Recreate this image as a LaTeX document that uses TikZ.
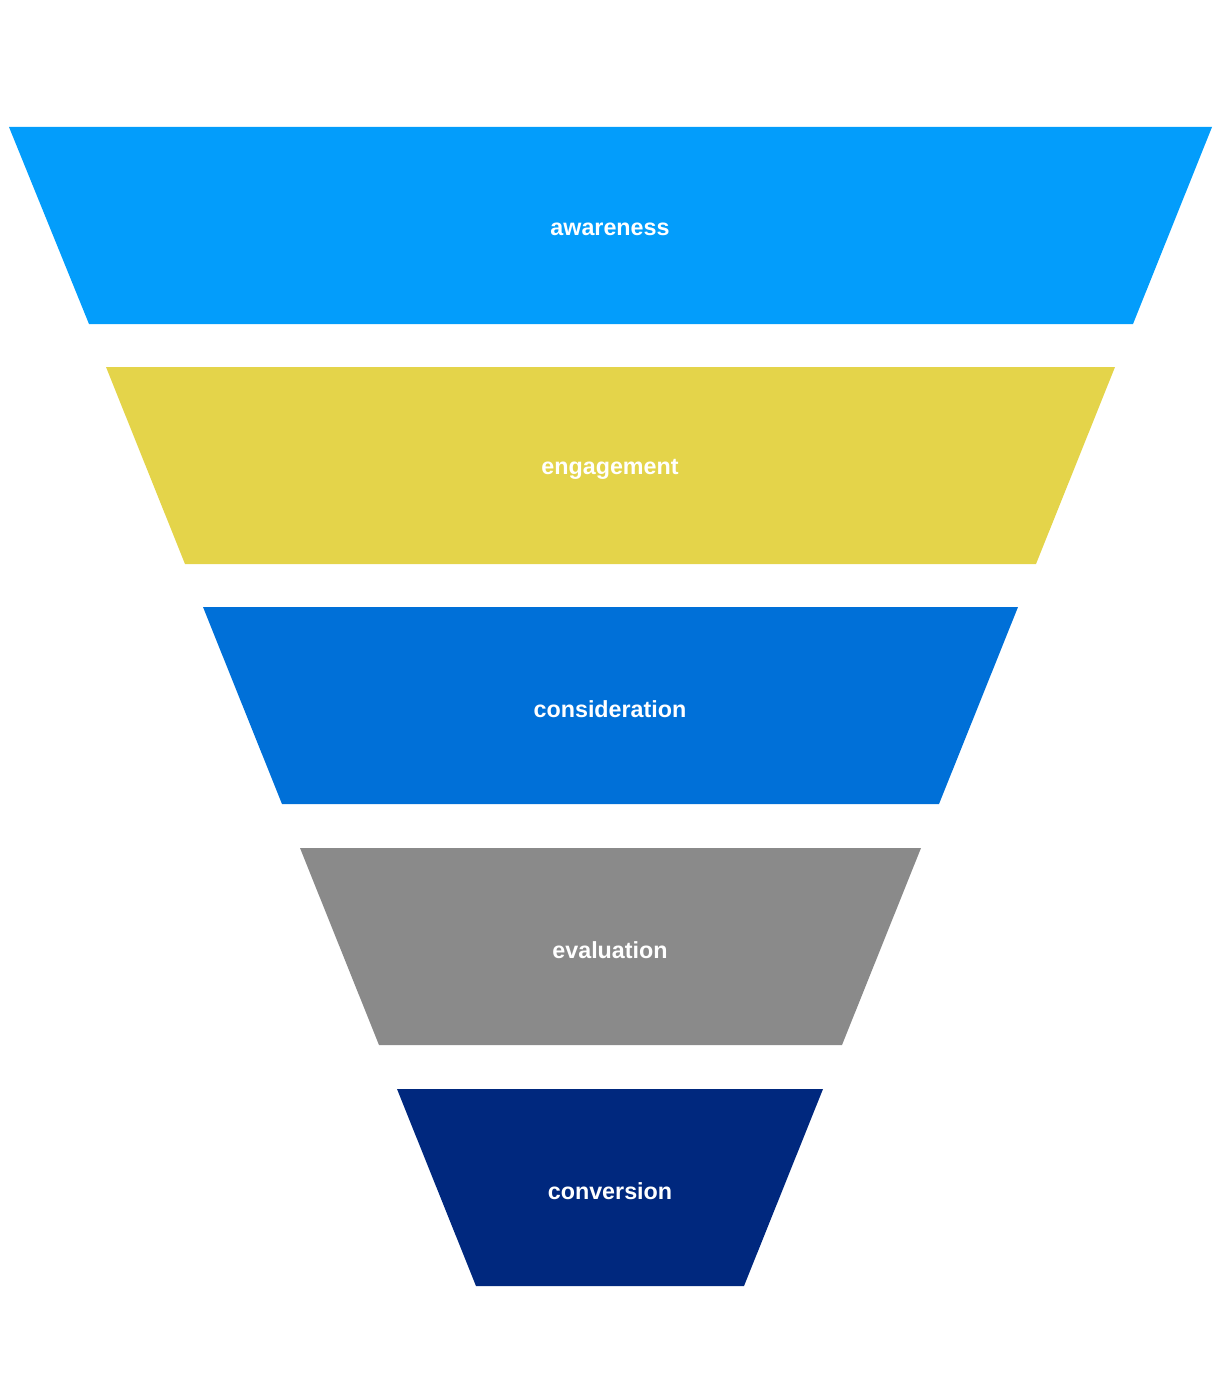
\documentclass[tikz,border=0pt]{standalone}
\usepackage{fontspec}
\setmainfont{Liberation Sans}
\definecolor{cAware}{HTML}{039DFB}
\definecolor{cEngage}{HTML}{E4D44A}
\definecolor{cConsid}{HTML}{0070D8}
\definecolor{cEval}{HTML}{8A8A8A}
\definecolor{cConv}{HTML}{00287E}
\begin{document}
\begin{tikzpicture}[x=1pt,y=-1pt,
  lbl/.style={text=white,font=\fontsize{23.3}{28}\selectfont\bfseries,inner sep=0pt}]
\useasboundingbox (0,0) rectangle (1224,1378);
\fill[cAware]  (9,127) -- (1212,127) -- (1133,324) -- (89,324) -- cycle;
\fill[cEngage] (106,367) -- (1115,367) -- (1036,564) -- (185,564) -- cycle;
\fill[cConsid] (203,607) -- (1018,607) -- (939,804) -- (282,804) -- cycle;
\fill[cEval]   (300,848) -- (921,848) -- (842,1045) -- (379,1045) -- cycle;
\fill[cConv]   (397,1089) -- (823,1089) -- (744,1286) -- (476,1286) -- cycle;
\node[lbl] (aware)  at (610,229)  {awareness};
\node[lbl] (engage) at (610,469)  {engagement};
\node[lbl] (consid) at (610,709)  {consideration};
\node[lbl] (eval)   at (610,950)  {evaluation};
\node[lbl] (conv)   at (610,1191) {conversion};
\end{tikzpicture}
\end{document}
